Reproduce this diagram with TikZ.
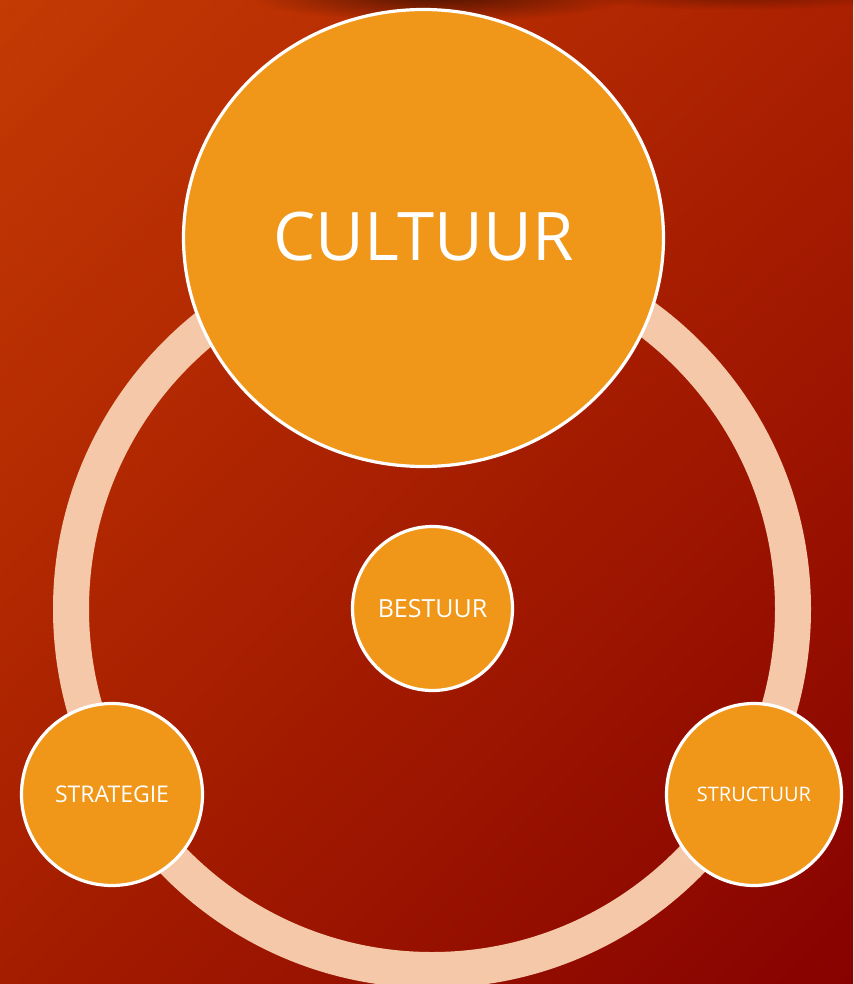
\documentclass[tikz,border=0pt]{standalone}
\usepackage{fontspec}
\setmainfont{Open Sans}
\usetikzlibrary{shapes.geometric,fadings,shadings,patterns}
\definecolor{bgA}{HTML}{C83C05}
\definecolor{bgB}{HTML}{AE2202}
\definecolor{bgC}{HTML}{A81E00}
\definecolor{bgD}{HTML}{8A0300}
\definecolor{ringc}{HTML}{F4C8A8}
\definecolor{bubble}{HTML}{F09618}
\tikzfading[name=softglow, inner color=transparent!0, outer color=transparent!100]
\tikzset{
  bubblenode/.style={ellipse, draw=white, line width=3.2pt, fill=bubble, inner sep=0pt, text=white},
}
\begin{document}
\begin{tikzpicture}[x=1pt,y=-1pt]
\useasboundingbox (0,0) rectangle (853,984);
\shade[upper left=bgA, upper right=bgB, lower left=bgC, lower right=bgD] (0,0) rectangle (853,984);
\fill[pattern=north east lines, pattern color=black, opacity=0.05] (0,0) rectangle (853,984);
\fill[black, opacity=0.55, path fading=softglow, fit fading=true] (440,-4) ellipse[x radius=190, y radius=26];
\fill[black, opacity=0.3, path fading=softglow, fit fading=true] (740,-4) ellipse[x radius=160, y radius=14];
\coordinate (ringc) at (432,609);
\draw[ringc, line width=36pt] (ringc) circle[radius=361];
\node[bubblenode, minimum width=480, minimum height=457, font=\fontsize{67}{80}\selectfont] (cult) at (423.5,238) {\raisebox{3pt}{CULTUUR}};
\node[bubblenode, minimum width=160, minimum height=164, font=\fontsize{25}{30}\selectfont] (best) at (432.5,608.5) {BESTUUR};
\node[bubblenode, minimum width=181, minimum height=182, font=\fontsize{23}{28}\selectfont] (strat) at (112,794.5) {STRATEGIE};
\node[bubblenode, minimum width=175, minimum height=182, font=\fontsize{20}{24}\selectfont] (struc) at (754,794.5) {STRUCTUUR};
\end{tikzpicture}
\end{document}
